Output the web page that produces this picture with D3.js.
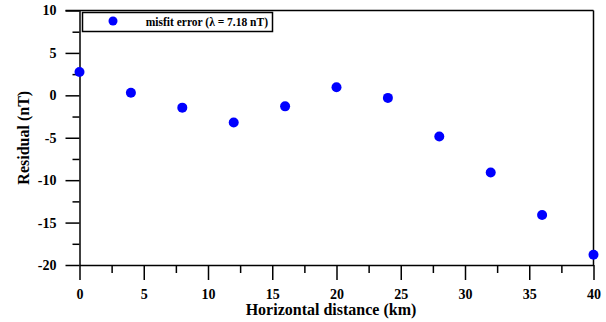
<!DOCTYPE html>
<html>
<head>
<meta charset="utf-8">
<script src="https://cdn.jsdelivr.net/npm/d3@7"></script>
<style>
  body { margin: 0; background: #fff; }
  text { font-family: "Liberation Serif", "Times New Roman", serif; font-weight: bold; fill: #000; }
</style>
</head>
<body>
<div id="chart"></div>
<script>
// horizontal distance (km) and residual (nT)
var distance = [0, 4, 8, 12, 16, 20, 24, 28, 32, 36, 40];
var residual = [2.75, 0.3, -1.45, -3.2, -1.3, 0.95, -0.3, -4.85, -9.1, -14.1, -18.8];
var xTicks = [0, 5, 10, 15, 20, 25, 30, 35, 40];
var yTicks = [10, 5, 0, -5, -10, -15, -20];
var legendLabel = "misfit error (\u03bb = 7.18 nT)";

var W = 606, H = 322;
var pLeft = 79.5, pRight = 593.5, pTop = 10.5, pBottom = 265;

var svg = d3.select("#chart").append("svg")
    .attr("width", W)
    .attr("height", H);

var x = d3.scaleLinear().domain([0, 40]).range([pLeft, pRight]);
var y = d3.scaleLinear().domain([-20, 10]).range([pBottom, pTop]);
var plain = function(d) { return String(d); };  // keep ascii hyphen for negatives

// frame: top and right lines
svg.append("line")
  .attr("x1", pLeft - 14).attr("x2", pRight).attr("y1", pTop).attr("y2", pTop)
  .attr("stroke", "#000").attr("stroke-width", 1.5);
svg.append("line")
  .attr("x1", pRight).attr("x2", pRight).attr("y1", pTop).attr("y2", pBottom)
  .attr("stroke", "#000").attr("stroke-width", 1.5);

// x axis, ticks pointing down
var xAxis = svg.append("g").attr("transform", "translate(0," + pBottom + ")");
xAxis.call(d3.axisBottom(x).tickValues(xTicks).tickFormat(plain).tickSize(15).tickSizeOuter(0).tickPadding(9));
var xMinor = svg.append("g").attr("transform", "translate(0," + pBottom + ")");
xMinor.call(d3.axisBottom(x).tickValues(d3.range(2.5, 40, 5)).tickSize(8).tickFormat("").tickSizeOuter(0));
xMinor.select(".domain").remove();

// y axis, ticks pointing left
var yAxis = svg.append("g").attr("transform", "translate(" + pLeft + ",0)");
yAxis.call(d3.axisLeft(y).tickValues(yTicks).tickFormat(plain).tickSize(14).tickSizeOuter(0).tickPadding(9));
var yMinor = svg.append("g").attr("transform", "translate(" + pLeft + ",0)");
yMinor.call(d3.axisLeft(y).tickValues(d3.range(-17.5, 10, 5)).tickSize(7).tickFormat("").tickSizeOuter(0));
yMinor.select(".domain").remove();

svg.selectAll("g").attr("font-family", null);
svg.selectAll(".domain, .tick line").attr("stroke", "#000").attr("stroke-width", 1.5);
svg.selectAll(".tick text").style("font-size", "14px");

// axis titles
svg.append("text")
  .attr("x", 331).attr("y", 315)
  .attr("text-anchor", "middle")
  .style("font-size", "16px")
  .text("Horizontal distance (km)");
svg.append("text")
  .attr("transform", "translate(29," + ((pTop + pBottom) / 2) + ") rotate(-90)")
  .attr("text-anchor", "middle")
  .style("font-size", "16px")
  .text("Residual (nT)");

// points
svg.selectAll("circle.pt")
  .data(distance)
  .enter().append("circle")
  .attr("class", "pt")
  .attr("cx", function(d) { return x(d); })
  .attr("cy", function(d, i) { return y(residual[i]); })
  .attr("r", 5)
  .attr("fill", "#0000ff");

// legend
var lg = svg.append("g");
lg.append("rect")
  .attr("x", 82.5).attr("y", 12.5).attr("width", 190).attr("height", 19)
  .attr("fill", "#fff").attr("stroke", "#000").attr("stroke-width", 1.5);
lg.append("circle").attr("cx", 113).attr("cy", 21).attr("r", 4.5).attr("fill", "#0000ff");
lg.append("text")
  .attr("x", 268).attr("y", 26)
  .attr("text-anchor", "end")
  .style("font-size", "11.5px")
  .text(legendLabel);
</script>
</body>
</html>
